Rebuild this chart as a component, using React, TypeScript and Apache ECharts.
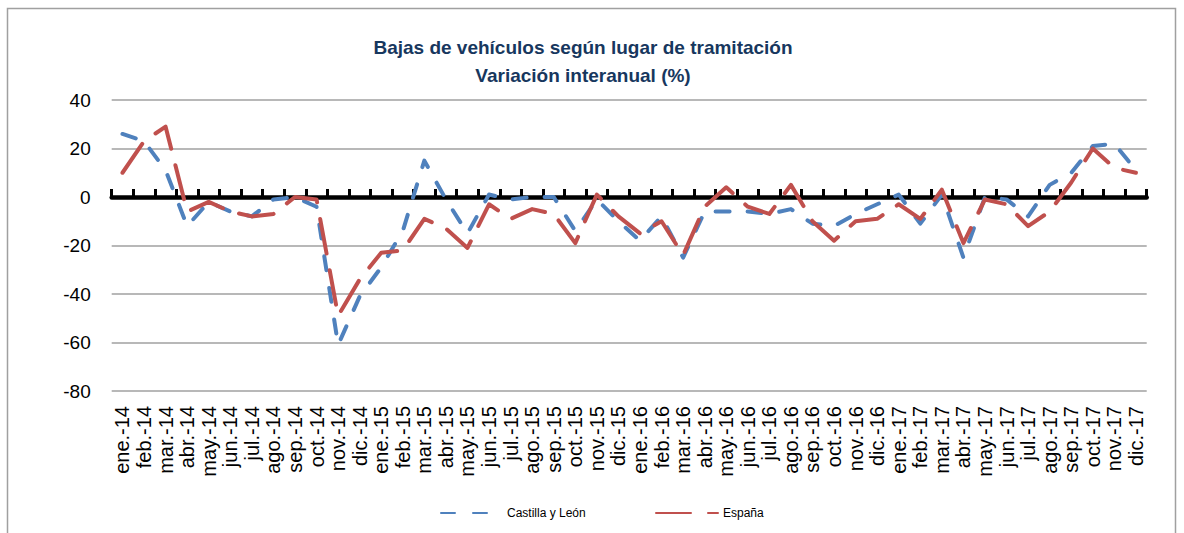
import React, { useEffect, useRef } from "react";
import * as echarts from "echarts";

const categories = [
  "ene.-14", "feb.-14", "mar.-14", "abr.-14", "may.-14", "jun.-14", "jul.-14", "ago.-14", "sep.-14", "oct.-14", "nov.-14", "dic.-14",
  "ene.-15", "feb.-15", "mar.-15", "abr.-15", "may.-15", "jun.-15", "jul.-15", "ago.-15", "sep.-15", "oct.-15", "nov.-15", "dic.-15",
  "ene.-16", "feb.-16", "mar.-16", "abr.-16", "may.-16", "jun.-16", "jul.-16", "ago.-16", "sep.-16", "oct.-16", "nov.-16", "dic.-16",
  "ene.-17", "feb.-17", "mar.-17", "abr.-17", "may.-17", "jun.-17", "jul.-17", "ago.-17", "sep.-17", "oct.-17", "nov.-17", "dic.-17",
];

const castillaLeon = [
  26, 23, 11, -12, -2, -6, -8, -1, 0, -4, -61, -41,
  -29, -14, 15, -1, -15, 1, -1, 0, 0, -14, -1, -10,
  -18, -8, -25, -6, -6, -6, -7, -5, -11, -12, -7, -3,
  1, -11, 1, -25, 0, -1, -8, 5, 10, 21, 22, 11,
];

const espana = [
  10, 23, 29, -6, -2, -6, -8, -7, 0, -1, -49, -34,
  -23, -22, -9, -13, -21, -3, -9, -5, -7, -19, 1, -8,
  -15, -10, -24, -4, 4, -4, -7, 5, -10, -18, -10, -9,
  -3, -9, 3, -19, -1, -3, -12, -6, 6, 20, 12, 10,
];

const yTicks = { min: -80, max: 40, interval: 20 };

const FONT = "'Liberation Sans', Arial, sans-serif";
const BLUE = "#4F81BD";
const RED = "#C0504D";

export default function App() {
  const ref = useRef<HTMLDivElement>(null);

  useEffect(() => {
    if (!ref.current) return;
    const chart = echarts.init(ref.current, undefined, { renderer: "svg" });
    chart.setOption({
      animation: false,
      backgroundColor: "#ffffff",
      title: {
        text: "Bajas de vehículos según lugar de tramitación\nVariación interanual (%)",
        left: 583,
        top: 33,
        padding: 0,
        textAlign: "center",
        textStyle: {
          fontFamily: FONT,
          fontSize: 19,
          fontWeight: "bold",
          color: "#17375E",
          lineHeight: 28,
        },
      },
      legend: [
        {
          data: ["Castilla y León"],
          left: 440,
          top: 507,
          padding: 0,
          itemWidth: 50,
          itemHeight: 14,
          itemStyle: { opacity: 0 },
          textStyle: { fontFamily: FONT, fontSize: 12, color: "#000", padding: [0, 0, 0, 11] },
        },
        {
          data: ["España"],
          left: 655,
          top: 507,
          padding: 0,
          itemWidth: 62,
          itemHeight: 14,
          itemStyle: { opacity: 0 },
          textStyle: { fontFamily: FONT, fontSize: 12, color: "#000", padding: [0, 0, 0, 0] },
        },
      ],
      grid: { left: 111.7, right: 37.3, top: 100, bottom: 142, containLabel: false },
      xAxis: [
        {
          type: "category",
          data: categories,
          position: "bottom",
          boundaryGap: true,
          axisLine: { show: false, onZero: false },
          axisTick: { show: false },
          axisLabel: {
            rotate: 90,
            interval: 0,
            margin: 15,
            fontFamily: FONT,
            fontSize: 20,
            color: "#000",
          },
        },
        {
          type: "category",
          data: categories,
          position: "bottom",
          boundaryGap: true,
          axisLine: { show: true, onZero: true, lineStyle: { color: "#000", width: 4.5 } },
          axisTick: { show: true, inside: true, length: 8, interval: 0, lineStyle: { color: "#000", width: 3 } },
          axisLabel: { show: false },
        },
      ],
      yAxis: {
        type: "value",
        min: yTicks.min,
        max: yTicks.max,
        interval: yTicks.interval,
        axisLine: { show: false },
        axisTick: { show: false },
        axisLabel: { margin: 21, fontFamily: FONT, fontSize: 19, color: "#000" },
        splitLine: { show: true, lineStyle: { color: "#A0A0A0", width: 1.5 } },
      },
      series: [
        {
          name: "Castilla y León",
          type: "line",
          data: castillaLeon,
          xAxisIndex: 0,
          showSymbol: false,
          symbol: "none",
          color: BLUE,
          lineStyle: { color: BLUE, width: 4, type: [14, 18], cap: "round", join: "round" },
          z: 3,
        },
        {
          name: "España",
          type: "line",
          data: espana,
          xAxisIndex: 0,
          showSymbol: false,
          symbol: "none",
          color: RED,
          lineStyle: { color: RED, width: 4, type: [35, 17], cap: "round", join: "round" },
          z: 4,
        },
      ],
      graphic: [
        {
          type: "rect",
          shape: { x: 7.5, y: 8.5, width: 1168, height: 560 },
          style: { fill: "none", stroke: "#A0A0A0", lineWidth: 1.5 },
          silent: true,
          z: -10,
        },
      ],
    });
    return () => chart.dispose();
  }, []);

  return (
    <div
      ref={ref}
      style={{ position: "absolute", left: 0, top: 0, width: 1184, height: 533 }}
    />
  );
}
